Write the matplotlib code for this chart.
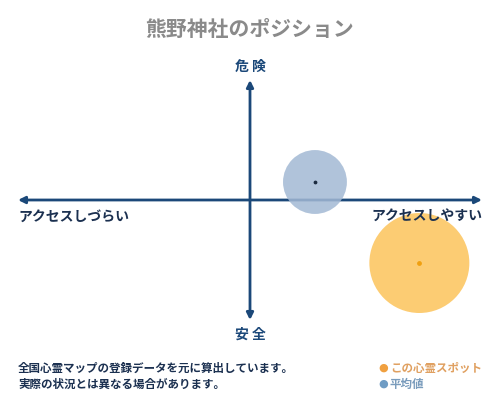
import matplotlib
matplotlib.use("Agg")
import matplotlib.pyplot as plt

plt.rcParams['font.family'] = ['Noto Sans CJK JP', 'DejaVu Sans']

title = "熊野神社のポジション"
top_label = "危 険"
bottom_label = "安 全"
left_label = "アクセスしづらい"
right_label = "アクセスしやすい"
note_lines = ["全国心霊マップの登録データを元に算出しています。",
              "実際の状況とは異なる場合があります。"]
legend_labels = ["この心霊スポット", "平均値"]

# positions on a -10..10 scale (x: accessibility, y: danger)
spot_x, spot_y = [7.3], [-5.25]
avg_x, avg_y = [2.8], [1.5]
spot_size = [5184]
avg_size = [2116]

navy = "#1b4879"
orange_fill = "#fcc35a"
orange_dot = "#f0a010"
blue_fill = "#a3b9d4"

fig = plt.figure(figsize=(5, 4), dpi=100)
fig.patch.set_facecolor("white")

ax = fig.add_axes([18/500, 80/400, 464/500, 240/400])
ax.set_xlim(-10, 10)
ax.set_ylim(-10, 10)
ax.axis("off")

arrow = dict(arrowstyle="<|-|>", color=navy, lw=2, mutation_scale=10, shrinkA=0, shrinkB=0)
ax.annotate("", xy=(-10, 0), xytext=(10, 0), arrowprops=arrow)
ax.annotate("", xy=(0, -10), xytext=(0, 10), arrowprops=arrow)

ax.scatter(avg_x, avg_y, s=avg_size, color=blue_fill, alpha=0.85, edgecolors="none", zorder=3)
ax.scatter(avg_x, avg_y, s=3, color="#1b2b40", zorder=4)
ax.scatter(spot_x, spot_y, s=spot_size, color=orange_fill, alpha=0.85, edgecolors="none", zorder=3)
ax.scatter(spot_x, spot_y, s=6, color=orange_dot, zorder=4)

fig.text(0.5, 1 - 30/400, title, ha="center", va="center", fontsize=15,
         color="#8a8a8a", fontweight="bold")
fig.text(0.5, 1 - 67/400, top_label, ha="center", va="center", fontsize=10,
         color=navy, fontweight="bold")
fig.text(0.5, 1 - 335/400, bottom_label, ha="center", va="center", fontsize=10,
         color=navy, fontweight="bold")
fig.text(18/500, 1 - 217/400, left_label, ha="left", va="center", fontsize=10,
         color="#1b3050", fontweight="bold")
fig.text(482/500, 1 - 217/400, right_label, ha="right", va="center", fontsize=10,
         color="#1b3050", fontweight="bold")

for i, line in enumerate(note_lines):
    fig.text(18/500, 1 - (368 + 16*i)/400, line, ha="left", va="center",
             fontsize=8.3, color="#1b3050", fontweight="bold")

leg_colors = ["#f0a040", "#6f9cc4"]
leg_text_colors = ["#e0a060", "#7a9cbc"]
for i, (lab, c, tc) in enumerate(zip(legend_labels, leg_colors, leg_text_colors)):
    y = 1 - (368 + 16*i)/400
    fig.text(383/500, y, "●", ha="center", va="center", fontsize=8, color=c,
             family=["DejaVu Sans"])
    fig.text(390/500, y, lab, ha="left", va="center", fontsize=8.3, color=tc,
             fontweight="bold")

fig.savefig("out.png", dpi=100, facecolor="white")
